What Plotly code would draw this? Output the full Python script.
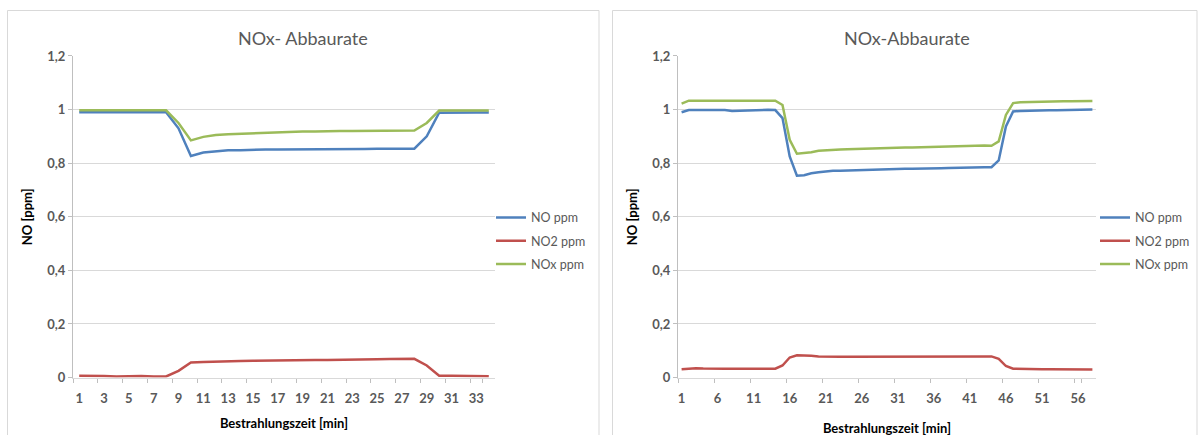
import plotly.graph_objects as go

# ---------------- data ----------------
cats_left = [str(i) for i in range(1, 35)]
no_left = [0.99, 0.99, 0.99, 0.99, 0.99, 0.99, 0.99, 0.99, 0.93, 0.827,
           0.84, 0.845, 0.848, 0.848, 0.85, 0.851, 0.851, 0.851, 0.852, 0.853,
           0.853, 0.853, 0.853, 0.853, 0.854, 0.855, 0.854, 0.854, 0.90, 0.988,
           0.989, 0.989, 0.989, 0.989]
no2_left = [0.007, 0.007, 0.006, 0.004, 0.006, 0.006, 0.004, 0.004, 0.025, 0.056,
            0.058, 0.06, 0.061, 0.062, 0.063, 0.064, 0.065, 0.065, 0.066, 0.066,
            0.066, 0.066, 0.067, 0.067, 0.068, 0.069, 0.07, 0.07, 0.045, 0.007,
            0.007, 0.006, 0.005, 0.005]
nox_left = [0.997, 0.997, 0.997, 0.997, 0.997, 0.997, 0.997, 0.997, 0.95, 0.885,
            0.898, 0.905, 0.908, 0.91, 0.912, 0.913, 0.915, 0.916, 0.918, 0.918,
            0.92, 0.92, 0.92, 0.92, 0.922, 0.922, 0.922, 0.922, 0.95, 0.996,
            0.996, 0.996, 0.996, 0.996]
ticks_left = [str(i) for i in range(1, 35, 2)]

cats_right = [str(i) for i in range(1, 59)]
no_right = [0.99, 0.998, 0.998, 0.998, 0.997, 0.998, 0.998, 0.995, 0.996, 0.997,
            0.998, 0.999, 0.999, 0.998, 0.968, 0.825, 0.753, 0.755, 0.762, 0.766,
            0.769, 0.772, 0.772, 0.773, 0.774, 0.775, 0.776, 0.776, 0.777, 0.778,
            0.779, 0.779, 0.779, 0.779, 0.78, 0.78, 0.781, 0.782, 0.783, 0.784,
            0.785, 0.785, 0.785, 0.785, 0.81, 0.937, 0.993, 0.995, 0.996, 0.996,
            0.996, 0.997, 0.997, 0.998, 0.998, 0.999, 0.999, 1.0]
no2_right = [0.031, 0.033, 0.035, 0.034, 0.033, 0.033, 0.033, 0.033, 0.033, 0.033,
             0.033, 0.033, 0.033, 0.033, 0.045, 0.075, 0.083, 0.083, 0.081, 0.079,
             0.078, 0.078, 0.078, 0.078, 0.078, 0.078, 0.078, 0.078, 0.078, 0.078,
             0.078, 0.078, 0.078, 0.078, 0.078, 0.078, 0.078, 0.078, 0.078, 0.079,
             0.079, 0.08, 0.08, 0.079, 0.07, 0.043, 0.033, 0.032, 0.032, 0.032,
             0.031, 0.031, 0.031, 0.031, 0.031, 0.031, 0.03, 0.03]
nox_right = [1.022, 1.033, 1.033, 1.033, 1.033, 1.033, 1.033, 1.033, 1.033, 1.033,
             1.033, 1.033, 1.033, 1.033, 1.017, 0.887, 0.835, 0.837, 0.841, 0.846,
             0.848, 0.851, 0.851, 0.852, 0.853, 0.854, 0.855, 0.855, 0.856, 0.857,
             0.858, 0.858, 0.858, 0.859, 0.86, 0.861, 0.861, 0.862, 0.862, 0.863,
             0.864, 0.865, 0.866, 0.865, 0.881, 0.98, 1.024, 1.027, 1.028, 1.028,
             1.029, 1.029, 1.03, 1.031, 1.031, 1.032, 1.032, 1.032]
ticks_right = [str(i) for i in range(1, 59, 5)]

y_ticks = [0, 0.2, 0.4, 0.6, 0.8, 1.0, 1.2]
y_labels = ["0", "0,2", "0,4", "0,6", "0,8", "1", "1,2"]

series_names = ["NO ppm", "NO2 ppm", "NOx ppm"]
colors = ["#4f81bd", "#c0504d", "#9bbb59"]
titles = ["NOx- Abbaurate", "NOx-Abbaurate"]
x_title = "Bestrahlungszeit [min]"
y_title = "NO [ppm]"

# ---------------- figure ----------------
W, H = 1199, 443
YOFF, YSC = 8.0, 0.965
FONT = "Lato, Carlito, 'Open Sans', sans-serif"
GRAY = "#595959"

fig = go.Figure()

for i, (name, col) in enumerate(zip(series_names, colors)):
    fig.add_trace(go.Scatter(x=cats_left, y=[no_left, no2_left, nox_left][i],
                             mode="lines", name=name, line=dict(color=col, width=2.5),
                             xaxis="x", yaxis="y", legend="legend",
                             legendgroup="L" + str(i)))
for i, (name, col) in enumerate(zip(series_names, colors)):
    fig.add_trace(go.Scatter(x=cats_right, y=[no_right, no2_right, nox_right][i],
                             mode="lines", name=name, line=dict(color=col, width=2.5),
                             xaxis="x2", yaxis="y2", legend="legend2",
                             legendgroup="R" + str(i)))

def px_x(p):
    return p / W

def px_y(p):
    return 1 - ((p - YOFF) / YSC) / H

xcommon = dict(type="category", showgrid=False, zeroline=False, showline=True,
               linecolor="#d9d9d9", linewidth=1, ticks="outside", tickson="boundaries",
               ticklen=4, tickcolor="#bfbfbf", tickangle=0, ticklabelstandoff=9,
               tickfont=dict(family=FONT, size=13, color=GRAY, weight="bold"),
               title=dict(text="<b>" + x_title + "</b>", standoff=13,
                          font=dict(family=FONT, size=13, color="#000000")))
ycommon = dict(range=[0, 1.2], tickvals=y_ticks, ticktext=y_labels,
               showgrid=True, gridcolor="#d9d9d9", gridwidth=1, zeroline=False,
               showline=True, linecolor="#bfbfbf", linewidth=1,
               ticks="outside", ticklen=4, tickcolor="#bfbfbf",
               tickfont=dict(family=FONT, size=13, color=GRAY, weight="bold"),
               title=dict(text="<b>" + y_title + "</b>", standoff=11,
                          font=dict(family=FONT, size=13, color="#000000")))

fig.update_layout(
    width=W, height=H,
    margin=dict(l=0, r=0, t=0, b=0),
    paper_bgcolor="white", plot_bgcolor="white",
    font=dict(family=FONT, color=GRAY),
    xaxis=dict(xcommon, domain=[px_x(73), px_x(495)], anchor="y",
               tickmode="array", tickvals=ticks_left, range=[-0.5, 33.5]),
    yaxis=dict(ycommon, domain=[px_y(378), px_y(56)], anchor="x"),
    xaxis2=dict(xcommon, domain=[px_x(678), px_x(1096)], anchor="y2",
                tickmode="array", tickvals=ticks_right, range=[-0.5, 57.5],
                title=dict(xcommon["title"], standoff=18)),
    yaxis2=dict(ycommon, domain=[px_y(378), px_y(56)], anchor="x2"),
    legend=dict(x=px_x(491), y=px_y(203), xanchor="left", yanchor="top",
                font=dict(family=FONT, size=12.5, color=GRAY), tracegroupgap=4,
                bgcolor="rgba(0,0,0,0)"),
    legend2=dict(x=px_x(1095), y=px_y(203), xanchor="left", yanchor="top",
                 font=dict(family=FONT, size=12.5, color=GRAY), tracegroupgap=4,
                 bgcolor="rgba(0,0,0,0)"),
    annotations=[
        dict(text=titles[0], x=px_x(303), y=px_y(38), xref="paper", yref="paper",
             xanchor="center", yanchor="middle", showarrow=False,
             font=dict(family=FONT, size=18, color=GRAY)),
        dict(text=titles[1], x=px_x(907), y=px_y(38), xref="paper", yref="paper",
             xanchor="center", yanchor="middle", showarrow=False,
             font=dict(family=FONT, size=18, color=GRAY)),
    ],
    shapes=[
        dict(type="rect", xref="paper", yref="paper", x0=px_x(7.5), x1=px_x(599),
             y0=-0.1, y1=px_y(10.5), line=dict(color="#d9d9d9", width=1)),
        dict(type="rect", xref="paper", yref="paper", x0=px_x(612.5), x1=px_x(1197),
             y0=-0.1, y1=px_y(10.5), line=dict(color="#d9d9d9", width=1)),
    ],
)

fig.write_html("out.html", config={"displayModeBar": False},
               post_script="document.body.style.margin='0';"
                           "document.body.style.overflow='hidden';")
